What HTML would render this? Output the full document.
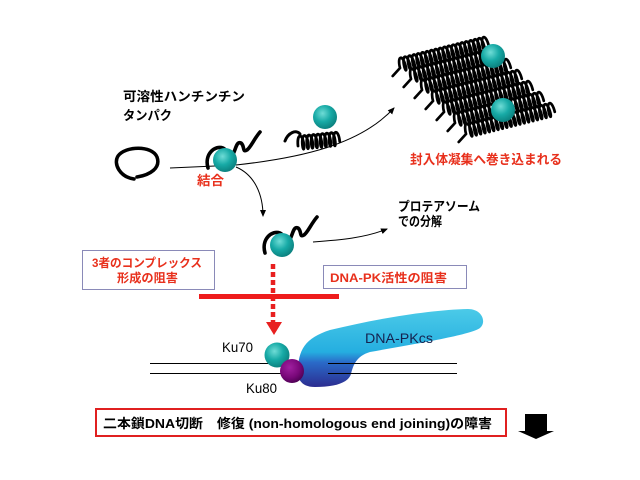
<!DOCTYPE html>
<html><head><meta charset="utf-8"><style>
html,body{margin:0;padding:0;background:#fff;width:640px;height:480px;overflow:hidden}
svg{display:block}
.jp{font-family:"Liberation Sans","Noto Sans CJK JP",sans-serif;font-weight:bold;font-size:13px}
.en{font-family:"Liberation Sans",sans-serif;font-size:14px}
</style></head><body>
<svg width="640" height="480" viewBox="0 0 640 480" xmlns="http://www.w3.org/2000/svg">
<defs>
<radialGradient id="teal" cx="0.4" cy="0.35" r="0.7">
<stop offset="0" stop-color="#6fdcd6"/><stop offset="0.5" stop-color="#17aaa6"/><stop offset="1" stop-color="#0a7c7a"/>
</radialGradient>
<radialGradient id="purp" cx="0.4" cy="0.35" r="0.7">
<stop offset="0" stop-color="#a020a0"/><stop offset="0.6" stop-color="#7a087a"/><stop offset="1" stop-color="#4a0050"/>
</radialGradient>
<linearGradient id="pk" x1="0" y1="308" x2="0" y2="388" gradientUnits="userSpaceOnUse">
<stop offset="0" stop-color="#4ccbe8"/><stop offset="0.55" stop-color="#25aee0"/><stop offset="0.68" stop-color="#2a6ac8"/><stop offset="1" stop-color="#2c2a8e"/>
</linearGradient>
<marker id="ah" markerWidth="8" markerHeight="8" refX="6" refY="4" orient="auto" markerUnits="userSpaceOnUse">
<path d="M0,1 L7,4 L0,7 Z" fill="#000"/>
</marker>
<path id="coil" d="M0,0 c0,-13 6,-13 6,0 c0,5 -1.5,5 -1.5,0 c0,-13 6,-13 6,0 c0,5 -1.5,5 -1.5,0 c0,-13 6,-13 6,0 c0,5 -1.5,5 -1.5,0 c0,-13 6,-13 6,0 c0,5 -1.5,5 -1.5,0 c0,-13 6,-13 6,0 c0,5 -1.5,5 -1.5,0 c0,-13 6,-13 6,0 c0,5 -1.5,5 -1.5,0 c0,-13 6,-13 6,0 c0,5 -1.5,5 -1.5,0 c0,-13 6,-13 6,0 c0,5 -1.5,5 -1.5,0 c0,-13 6,-13 6,0 c0,5 -1.5,5 -1.5,0 c0,-13 6,-13 6,0 c0,5 -1.5,5 -1.5,0 c0,-13 6,-13 6,0 c0,5 -1.5,5 -1.5,0 c0,-13 6,-13 6,0 c0,5 -1.5,5 -1.5,0 c0,-13 6,-13 6,0 c0,5 -1.5,5 -1.5,0 c0,-13 6,-13 6,0 c0,5 -1.5,5 -1.5,0 c0,-13 6,-13 6,0 c0,5 -1.5,5 -1.5,0 c0,-13 6,-13 6,0 c0,5 -1.5,5 -1.5,0 c0,-13 6,-13 6,0 c0,5 -1.5,5 -1.5,0 c0,-13 6,-13 6,0 c0,5 -1.5,5 -1.5,0 c0,-13 6,-13 6,0 c0,5 -1.5,5 -1.5,0 c0,-13 6,-13 6,0 M0,0 l-9,6" fill="none" stroke="#000" stroke-width="2.7" stroke-linecap="round"/>
<path id="coils" d="M0,0 c0,-13 6,-13 6,0 c0,5 -1.5,5 -1.5,0 c0,-13 6,-13 6,0 c0,5 -1.5,5 -1.5,0 c0,-13 6,-13 6,0 c0,5 -1.5,5 -1.5,0 c0,-13 6,-13 6,0 c0,5 -1.5,5 -1.5,0 c0,-13 6,-13 6,0 c0,5 -1.5,5 -1.5,0 c0,-13 6,-13 6,0 c0,5 -1.5,5 -1.5,0 c0,-13 6,-13 6,0 c0,5 -1.5,5 -1.5,0 c0,-13 6,-13 6,0 c0,5 -1.5,5 -1.5,0 c0,-13 6,-13 6,0" fill="none" stroke="#000" stroke-width="2.8" stroke-linecap="round"/>
<path id="strand" d="M208,168 C204,154 215,145 223,148 C229,151 228,160 232,156 C236,150 236,141 241,143 C245,146 242,153 247,150 C251,147 254,139 260,132" fill="none" stroke="#000" stroke-width="3.6" stroke-linecap="round"/>
</defs>

<text class="jp" x="123" y="101" textLength="122" lengthAdjust="spacingAndGlyphs" fill="#000">可溶性ハンチンチン</text>
<text class="jp" x="123" y="120" textLength="49" lengthAdjust="spacingAndGlyphs" fill="#000">タンパク</text>

<path d="M134,179 C120,177 113,164 118,156 C125,146 152,145 157,157 C161,168 150,175 137,177" fill="none" stroke="#000" stroke-width="3.5" stroke-linecap="round"/>

<line x1="170" y1="168" x2="215" y2="166" stroke="#000" stroke-width="1"/>
<path d="M236,165 C300,158 360,145 394,108" fill="none" stroke="#000" stroke-width="1" marker-end="url(#ah)"/>
<path d="M236,167 C255,175 263,195 263,216" fill="none" stroke="#000" stroke-width="1" marker-end="url(#ah)"/>

<use href="#strand"/>
<circle cx="225" cy="160" r="12" fill="url(#teal)"/>
<text class="jp" x="197" y="185" textLength="27" lengthAdjust="spacingAndGlyphs" fill="#e8301c">結合</text>

<path d="M285,141 C288,133 296,129 300,134" fill="none" stroke="#000" stroke-width="3" stroke-linecap="round"/>
<g transform="translate(298,146) rotate(-6)"><use href="#coils"/></g>
<circle cx="325" cy="117" r="12" fill="url(#teal)"/>

<g transform="translate(400,68) rotate(-14)"><use href="#coil"/></g>
<g transform="translate(411,79) rotate(-14)"><use href="#coil"/></g>
<g transform="translate(422,90) rotate(-14)"><use href="#coil"/></g>
<g transform="translate(433,101) rotate(-14)"><use href="#coil"/></g>
<g transform="translate(444,112) rotate(-14)"><use href="#coil"/></g>
<g transform="translate(455,123) rotate(-14)"><use href="#coil"/></g>
<g transform="translate(466,134) rotate(-14)"><use href="#coil"/></g>
<circle cx="493" cy="56" r="12" fill="url(#teal)"/>
<circle cx="503" cy="110" r="12" fill="url(#teal)"/>
<text class="jp" x="410" y="164" textLength="152" lengthAdjust="spacingAndGlyphs" fill="#e8301c">封入体凝集へ巻き込まれる</text>

<g transform="translate(57,85)"><use href="#strand"/></g>
<circle cx="282" cy="245" r="12" fill="url(#teal)"/>
<path d="M313,242 C340,240 365,238 387,229" fill="none" stroke="#000" stroke-width="1" marker-end="url(#ah)"/>
<text class="jp" x="398" y="211" textLength="82" lengthAdjust="spacingAndGlyphs" fill="#000">プロテアソーム</text>
<text class="jp" x="398" y="226" textLength="44" lengthAdjust="spacingAndGlyphs" fill="#000">での分解</text>

<rect x="82.5" y="250.5" width="132" height="39" fill="#fff" stroke="#8a8ab8" stroke-width="1"/>
<text class="jp" style="font-size:12px" x="92" y="267" textLength="110" lengthAdjust="spacingAndGlyphs" fill="#e8301c">3者のコンプレックス</text>
<text class="jp" style="font-size:12px" x="117" y="282" textLength="61" lengthAdjust="spacingAndGlyphs" fill="#e8301c">形成の阻害</text>
<rect x="323.5" y="265.5" width="143" height="23" fill="#fff" stroke="#8a8ab8" stroke-width="1"/>
<text class="jp" style="font-size:12px" x="330" y="282" textLength="117" lengthAdjust="spacingAndGlyphs" fill="#e8301c">DNA-PK活性の阻害</text>

<line x1="273" y1="264" x2="273" y2="323" stroke="#e82020" stroke-width="4.5" stroke-dasharray="5,3"/>
<rect x="199" y="294" width="140" height="5" fill="#ee1c1c"/>
<path d="M266,322 L282,322 L274,335 Z" fill="#e82020"/>

<line x1="150" y1="363.5" x2="285" y2="363.5" stroke="#000" stroke-width="1"/>
<line x1="150" y1="373.5" x2="285" y2="373.5" stroke="#000" stroke-width="1"/>
<path d="M298,372 C298,350 305,338 330,330 C380,318 430,310 468,309 C482,309 487,322 480,328 C470,335 420,343 370,352 C356,356 353,366 351,374 C348,383 335,387 315,387 C302,387 298,380 298,372 Z" fill="url(#pk)"/>
<line x1="328" y1="363.5" x2="457" y2="363.5" stroke="#000" stroke-width="1"/>
<line x1="328" y1="373.5" x2="457" y2="373.5" stroke="#000" stroke-width="1"/>
<circle cx="277" cy="355" r="12.5" fill="url(#teal)"/>
<circle cx="292" cy="371" r="12" fill="url(#purp)"/>
<text class="en" x="222" y="352" textLength="31" lengthAdjust="spacingAndGlyphs" fill="#000">Ku70</text>
<text class="en" x="246" y="393" textLength="31" lengthAdjust="spacingAndGlyphs" fill="#000">Ku80</text>
<text class="en" x="365" y="343" textLength="68" lengthAdjust="spacingAndGlyphs" fill="#15224f">DNA-PKcs</text>

<rect x="96" y="409" width="410" height="27" fill="#fff" stroke="#e02020" stroke-width="2"/>
<text class="jp" x="103" y="428" textLength="389" lengthAdjust="spacingAndGlyphs" fill="#000">二本鎖DNA切断　修復 (non-homologous end joining)の障害</text>
<polygon points="525,414 547,414 547,431 554,431 536,439 518,431 525,431" fill="#000"/>
</svg>
</body></html>
